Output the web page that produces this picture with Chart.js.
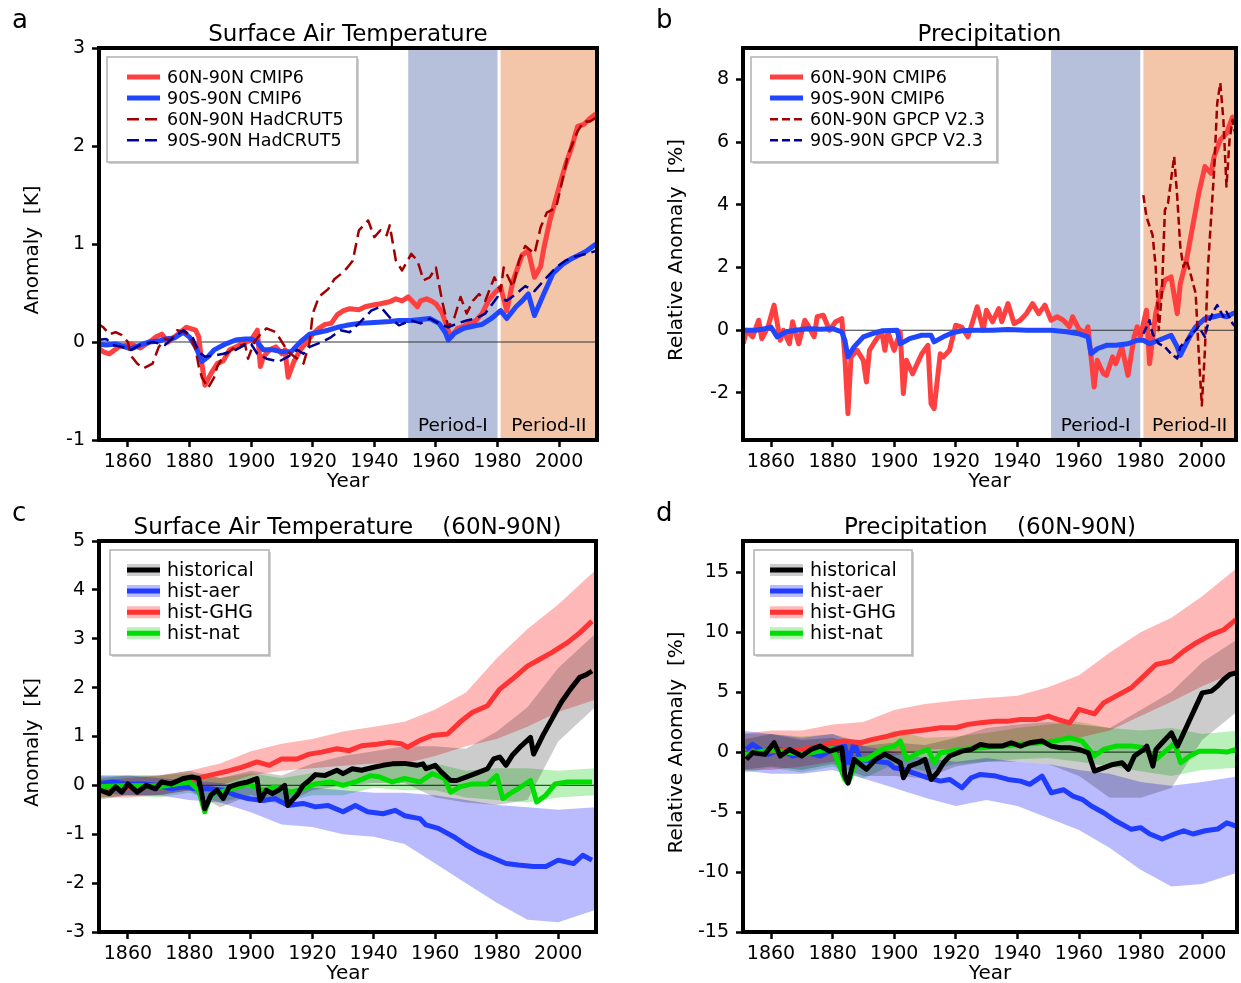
<!DOCTYPE html>
<html>
<head>
<meta charset="utf-8">
<script src="https://cdn.jsdelivr.net/npm/chart.js@4.4.1/dist/chart.umd.min.js"></script>
<style>
  body { margin: 0; background: #fff; }
  #wrap { position: relative; width: 1241px; height: 983px; }
  canvas { position: absolute; }
</style>
</head>
<body>
<div id="wrap">
  <canvas id="pa" width="620" height="491" style="left:0px;top:0px"></canvas>
  <canvas id="pb" width="621" height="491" style="left:620px;top:0px"></canvas>
  <canvas id="pc" width="620" height="492" style="left:0px;top:491px"></canvas>
  <canvas id="pd" width="621" height="492" style="left:620px;top:491px"></canvas>
</div>
<script>
// ---- ticks ----
const xTickVals = [1860, 1880, 1900, 1920, 1940, 1960, 1980, 2000];
const aYTicks = [-1, 0, 1, 2, 3];
const bYTicks = [-2, 0, 2, 4, 6, 8];
const cYTicks = [-3, -2, -1, 0, 1, 2, 3, 4, 5];
const dYTicks = [-15, -10, -5, 0, 5, 10, 15];

const periodNames = ['Period-I', 'Period-II'];
const periodStart = [1951, 1981];
const periodEnd = [1980, 2014];

// ---- panel a: surface air temperature ----
const aRedYr = [1850,1852,1854,1857,1861,1864,1867,1869,1871,1873,
  1875,1877,1879,1882,1883,1884,1885,1887,1889,1891,
  1893,1895,1897,1900,1902,1903,1904,1906,1908,1910,
  1911,1912,1914,1916,1918,1920,1922,1924,1926,1928,
  1930,1932,1935,1937,1940,1942,1945,1947,1949,1951,
  1954,1955,1957,1959,1960,1962,1964,1965,1967,1969,
  1971,1973,1975,1977,1979,1981,1983,1985,1987,1988,
  1990,1992,1994,1995,1997,2000,2002,2004,2006,2008,
  2010,2012];
const aRed = [-0.05,-0.1,-0.12,-0.05,-0.02,-0.06,0.0,0.05,0.08,0.0,
  0.05,0.1,0.15,0.12,0.05,-0.22,-0.44,-0.32,-0.22,-0.19,
  -0.08,-0.05,-0.02,0.02,0.12,-0.25,-0.15,-0.08,-0.05,-0.12,
  -0.08,-0.36,-0.19,-0.08,0.0,0.08,0.14,0.18,0.19,0.28,
  0.32,0.34,0.33,0.36,0.38,0.39,0.41,0.44,0.42,0.46,
  0.36,0.42,0.44,0.41,0.39,0.3,0.12,0.05,0.14,0.16,
  0.19,0.22,0.29,0.42,0.5,0.56,0.32,0.62,0.8,0.89,
  0.93,0.66,0.77,0.95,1.24,1.58,1.8,1.98,2.2,2.22,
  2.28,2.33];

const aBlueYr = [1850,1853,1856,1859,1861,1864,1867,1870,1872,1875,
  1878,1880,1882,1884,1886,1888,1891,1895,1898,1900,
  1902,1904,1907,1910,1913,1916,1919,1922,1925,1928,
  1931,1935,1940,1945,1948,1952,1955,1958,1961,1963,
  1964,1966,1969,1972,1975,1978,1981,1983,1986,1988,
  1990,1992,1995,1998,2001,2004,2006,2009,2012];
const aBlue = [-0.02,-0.03,-0.02,-0.05,-0.07,-0.03,0.0,0.01,0.03,0.04,
  0.1,0.05,-0.05,-0.2,-0.15,-0.08,-0.03,0.02,0.03,0.03,
  0.0,-0.08,-0.08,-0.1,-0.1,0.0,0.08,0.1,0.12,0.15,
  0.17,0.19,0.2,0.21,0.22,0.22,0.23,0.24,0.19,0.1,
  0.02,0.09,0.14,0.16,0.18,0.24,0.32,0.24,0.36,0.42,
  0.49,0.27,0.49,0.7,0.79,0.85,0.88,0.93,1.0];

const aHadNYr = [1850,1852,1854,1856,1858,1860,1861,1863,1865,1868,
  1870,1872,1874,1876,1878,1880,1882,1883,1884,1886,
  1888,1889,1891,1894,1898,1899,1901,1903,1905,1908,
  1910,1912,1915,1917,1919,1920,1922,1925,1927,1929,
  1931,1933,1935,1938,1940,1942,1944,1945,1947,1949,
  1952,1954,1956,1958,1960,1962,1964,1966,1968,1970,
  1972,1974,1976,1979,1981,1982,1985,1987,1989,1992,
  1994,1996,1999,2001,2003,2006,2008,2010,2012];
const aHadN = [0.19,0.15,0.08,0.1,0.07,0.0,-0.14,-0.22,-0.27,-0.22,
  -0.05,0.03,0.02,0.12,0.1,0.07,-0.08,-0.25,-0.36,-0.47,
  -0.36,-0.25,-0.15,-0.07,-0.02,-0.17,0.0,0.08,0.14,0.1,
  0.0,-0.1,-0.17,-0.22,0.0,0.29,0.46,0.54,0.64,0.69,
  0.75,0.83,1.14,1.24,1.07,1.14,1.09,1.19,0.83,0.73,
  0.9,0.83,0.63,0.66,0.76,0.42,0.15,0.25,0.46,0.29,
  0.42,0.49,0.42,0.66,0.52,0.76,0.56,0.83,0.98,0.9,
  1.17,1.32,1.37,1.64,1.92,2.15,2.25,2.25,2.29];

const aHadGYr = [1850,1853,1855,1858,1861,1864,1868,1872,1875,1878,
  1881,1883,1885,1888,1891,1895,1898,1900,1902,1905,
  1909,1912,1915,1917,1919,1923,1926,1929,1932,1935,
  1939,1942,1945,1948,1952,1955,1958,1961,1964,1967,
  1970,1973,1976,1980,1983,1986,1989,1992,1996,1999,
  2002,2005,2009,2012];
const aHadG = [0.02,0.03,-0.03,-0.05,-0.08,-0.03,0.0,-0.03,0.05,0.12,
  0.05,-0.1,-0.15,-0.14,-0.12,-0.08,-0.03,-0.02,-0.12,-0.17,
  -0.2,-0.15,-0.08,-0.12,-0.05,0.0,0.05,0.12,0.1,0.19,
  0.32,0.36,0.25,0.17,0.22,0.19,0.24,0.19,0.15,0.19,
  0.22,0.24,0.29,0.46,0.42,0.49,0.57,0.52,0.66,0.76,
  0.83,0.87,0.9,0.93];

// ---- panel b: precipitation ----
const bRedYr = [1851,1852,1854,1856,1857,1859,1861,1863,1864,1866,
  1867,1869,1871,1872,1874,1875,1877,1879,1881,1883,
  1884,1885,1886,1888,1890,1891,1892,1894,1896,1897,
  1898,1900,1902,1903,1904,1906,1908,1909,1911,1912,
  1913,1915,1916,1918,1920,1922,1924,1925,1927,1929,
  1930,1932,1934,1935,1937,1939,1941,1943,1945,1947,
  1949,1951,1953,1955,1957,1958,1960,1962,1963,1965,
  1966,1968,1969,1971,1972,1974,1976,1978,1979,1980,
  1982,1983,1985,1986,1988,1990,1992,1993,1995,1997,
  1999,2001,2003,2004,2006,2008,2010,2011,2012];
const bRed = [-0.43,0.0,-0.21,0.32,-0.27,0.1,0.8,-0.32,0.0,-0.43,
  0.27,-0.43,0.32,0.16,-0.21,0.43,0.48,0.0,0.27,0.37,
  -0.85,-2.66,-0.85,-0.64,-0.96,-1.65,-0.64,-0.32,-0.05,-0.64,
  -0.05,-0.64,-0.05,-2.02,-0.96,-1.39,-0.96,-0.75,-0.48,-2.34,
  -2.5,-0.75,-0.85,-0.64,0.16,0.1,-0.21,0.1,0.75,0.0,
  0.64,0.27,0.69,0.27,0.85,0.21,0.32,0.53,0.85,0.53,
  0.8,0.32,0.43,0.32,0.11,0.43,0.05,-0.11,0.11,-1.81,
  -0.96,-1.38,-1.44,-0.85,-1.07,-0.53,-1.44,-0.21,0.11,-0.21,
  0.64,-1.07,0.53,0.96,1.6,1.7,0.53,1.49,2.24,3.3,
  4.37,5.22,5.0,5.54,6.07,6.28,6.8,6.65,6.4];

const bBlueYr = [1851,1855,1858,1860,1862,1865,1868,1872,1876,1880,
  1883,1884,1885,1887,1890,1893,1896,1901,1902,1905,
  1909,1912,1913,1916,1919,1922,1926,1932,1937,1943,
  1948,1951,1956,1960,1963,1964,1966,1969,1972,1976,
  1979,1981,1983,1986,1990,1992,1993,1996,1998,2001,
  2004,2006,2008,2010,2012];
const bBlue = [0.0,0.0,0.05,0.1,-0.21,-0.05,0.0,0.05,0.03,0.05,
  -0.05,-0.32,-0.85,-0.53,-0.21,-0.11,-0.02,0.0,-0.43,-0.27,
  -0.16,-0.16,-0.37,-0.21,-0.08,-0.02,0.0,0.0,0.02,0.0,
  0.0,0.0,-0.05,-0.11,-0.21,-0.75,-0.59,-0.48,-0.48,-0.43,
  -0.32,-0.32,-0.43,-0.32,-0.16,-0.53,-0.8,-0.21,0.11,0.37,
  0.43,0.48,0.43,0.53,0.59];

const bGpcpNYr = [1981,1982,1984,1985,1986,1987,1988,1989,1991,1992,
  1993,1994,1995,1996,1998,1999,2000,2001,2002,2004,
  2005,2006,2007,2008,2009,2010,2011];
const bGpcpN = [4.31,3.62,3.03,2.02,0.0,1.17,3.83,4.05,5.54,4.26,
  2.66,2.02,2.24,1.92,1.17,-0.75,-2.4,-0.64,2.02,5.11,
  7.24,7.88,6.71,4.58,6.07,6.71,6.18];

const bGpcpGYr = [1981,1983,1984,1986,1988,1990,1992,1993,1996,1998,
  1999,2001,2002,2004,2005,2007,2008,2010,2011,2012];
const bGpcpG = [-0.11,0.32,-0.11,-0.43,-0.53,-0.75,-0.9,-0.53,-0.21,0.0,
  0.11,-0.21,0.21,0.64,0.8,0.43,0.59,0.21,0.11,0.32];

// ---- spread bands (panels c, d) ----
const bandYr = [1850,1860,1870,1880,1890,1900,1910,1920,1930,1940,1950,1960,1970,1980,1990,2000,2012];

// ---- panel c: SAT 60N-90N single forcing ----
const cHistYr = [1851,1854,1856,1858,1860,1863,1866,1869,1871,1874,
  1878,1881,1883,1885,1887,1889,1891,1893,1896,1899,
  1902,1903,1905,1907,1909,1911,1912,1915,1917,1919,
  1921,1924,1928,1930,1933,1936,1940,1943,1946,1950,
  1954,1956,1957,1960,1962,1965,1967,1970,1973,1977,
  1979,1981,1983,1985,1988,1991,1992,1995,1998,2001,
  2004,2007,2009,2011];
const cHist = [-0.1,-0.17,-0.03,-0.14,0.03,-0.14,0.0,-0.07,0.07,0.03,
  0.14,0.17,0.14,-0.48,-0.2,-0.1,-0.27,-0.03,0.03,0.07,
  0.14,-0.31,-0.1,-0.17,-0.1,0.0,-0.41,-0.2,0.0,0.1,
  0.22,0.2,0.31,0.24,0.34,0.31,0.37,0.41,0.44,0.45,
  0.41,0.44,0.34,0.41,0.27,0.1,0.1,0.17,0.24,0.34,
  0.54,0.58,0.41,0.61,0.81,0.98,0.64,1.02,1.36,1.7,
  1.97,2.21,2.26,2.34];
const cHistHi = [0.15,0.2,0.2,0.3,0.15,0.3,0.2,0.45,0.6,0.7,0.8,0.8,0.75,1.1,1.6,2.4,3.1];
const cHistLo = [-0.3,-0.2,-0.2,-0.1,-0.45,-0.2,-0.4,-0.1,0.0,0.05,0.05,-0.25,-0.35,-0.4,-0.3,0.9,1.6];

const cGhgYr = [1850,1858,1864,1870,1875,1880,1884,1889,1893,1897,
  1902,1906,1910,1915,1919,1923,1928,1932,1936,1941,
  1945,1949,1951,1955,1959,1964,1968,1972,1977,1981,
  1985,1990,1994,1998,2003,2007,2011];
const cGhg = [-0.1,-0.07,0.0,0.0,0.03,0.1,0.17,0.24,0.3,0.37,
  0.48,0.41,0.54,0.54,0.64,0.68,0.75,0.71,0.81,0.84,
  0.88,0.85,0.78,0.92,1.02,1.05,1.29,1.49,1.63,1.97,
  2.17,2.44,2.58,2.72,2.92,3.12,3.36];
const cGhgHi = [0.1,0.15,0.2,0.3,0.45,0.7,0.85,0.95,1.1,1.2,1.3,1.55,1.9,2.6,3.2,3.7,4.4];
const cGhgLo = [-0.25,-0.25,-0.2,-0.1,0.0,0.2,0.3,0.35,0.4,0.45,0.45,0.6,0.8,0.95,1.2,1.5,1.75];

const cAerYr = [1850,1855,1860,1865,1870,1874,1878,1882,1886,1891,
  1895,1899,1904,1908,1912,1917,1921,1925,1930,1934,
  1938,1943,1947,1950,1955,1957,1961,1966,1970,1974,
  1979,1983,1987,1992,1996,2000,2005,2008,2011];
const cAer = [0.03,0.07,0.03,0.03,0.0,-0.07,-0.03,-0.07,-0.07,-0.1,
  -0.2,-0.27,-0.31,-0.27,-0.41,-0.37,-0.44,-0.41,-0.54,-0.41,
  -0.54,-0.58,-0.51,-0.62,-0.68,-0.81,-0.88,-1.05,-1.22,-1.36,
  -1.49,-1.6,-1.63,-1.66,-1.66,-1.53,-1.6,-1.43,-1.53];
const cAerHi = [0.2,0.2,0.15,0.1,0.05,-0.05,-0.1,-0.05,-0.1,-0.15,-0.15,-0.2,-0.3,-0.4,-0.45,-0.5,-0.45];
const cAerLo = [-0.15,-0.2,-0.2,-0.3,-0.35,-0.55,-0.8,-0.85,-1.0,-1.05,-1.2,-1.6,-2.0,-2.4,-2.75,-2.8,-2.55];

const cNatYr = [1850,1860,1870,1880,1883,1885,1887,1892,1899,1904,
  1908,1913,1917,1921,1926,1930,1934,1939,1942,1946,
  1950,1955,1959,1963,1965,1968,1972,1977,1980,1982,
  1985,1987,1991,1993,1996,1999,2003,2007,2011];
const cNat = [-0.03,0.0,-0.03,0.07,-0.1,-0.54,-0.2,-0.1,0.03,-0.1,
  -0.03,-0.14,-0.07,0.03,0.07,0.0,0.07,0.2,0.17,0.07,
  0.14,0.07,0.24,0.14,-0.14,-0.03,0.03,0.03,0.2,-0.27,
  -0.14,-0.07,0.1,-0.34,-0.2,0.03,0.07,0.07,0.07];
const cNatHi = [0.2,0.2,0.2,0.25,0.15,0.25,0.15,0.25,0.25,0.4,0.4,0.45,0.3,0.35,0.35,0.3,0.35];
const cNatLo = [-0.25,-0.2,-0.25,-0.15,-0.35,-0.2,-0.35,-0.2,-0.2,-0.05,-0.1,-0.1,-0.25,-0.3,-0.35,-0.25,-0.2];

// ---- panel d: precipitation 60N-90N single forcing ----
const dHistYr = [1852,1854,1858,1861,1863,1866,1870,1873,1876,1879,
  1883,1884,1885,1887,1889,1891,1894,1897,1900,1902,
  1903,1905,1908,1910,1912,1914,1916,1918,1922,1925,
  1928,1931,1935,1938,1941,1944,1948,1951,1954,1957,
  1960,1963,1965,1968,1971,1974,1976,1978,1981,1982,
  1984,1985,1987,1990,1992,1994,1996,1998,2000,2003,
  2005,2007,2009,2011];
const dHist = [-0.61,-0.06,-0.19,0.78,-0.33,0.22,-0.33,0.22,0.5,0.08,
  0.36,-2.0,-2.56,-0.61,-1.03,-1.44,-0.61,-0.19,-0.61,-0.89,
  -2.14,-1.17,-0.89,-0.61,-2.28,-1.72,-0.89,-0.33,0.08,0.22,
  0.64,0.5,0.5,0.78,0.5,0.78,0.92,0.5,0.36,0.36,
  0.22,-0.06,-1.58,-1.31,-1.03,-0.89,-1.44,-0.33,0.22,0.5,
  -1.17,0.22,0.78,1.6,0.5,1.6,2.72,3.83,4.94,5.08,
  5.5,6.05,6.47,6.6];
const dHistHi = [1.0,1.5,1.0,1.2,0.5,0.8,0.6,1.2,2.0,2.3,2.5,2.3,2.0,3.5,5.0,7.5,9.5];
const dHistLo = [-1.5,-1.2,-1.5,-1.0,-2.0,-2.0,-2.2,-1.2,-0.8,-0.8,-1.0,-2.0,-3.8,-3.8,-3.0,1.0,3.5];

const dGhgYr = [1852,1859,1870,1876,1880,1884,1889,1893,1898,1902,
  1907,1911,1915,1920,1924,1928,1933,1937,1941,1946,
  1948,1950,1953,1957,1960,1965,1968,1972,1977,1981,
  1985,1990,1994,1998,2003,2007,2011];
const dGhg = [-0.19,0.08,0.22,0.5,0.78,0.92,0.78,1.06,1.33,1.6,
  1.75,1.89,2.03,2.03,2.31,2.44,2.58,2.58,2.72,2.72,
  2.86,3.0,2.72,2.44,3.56,3.19,4.1,4.67,5.36,6.33,
  7.3,7.58,8.42,9.1,9.8,10.2,11.05];
const dGhgHi = [1.5,1.8,1.8,2.3,2.5,3.5,4.0,4.3,4.5,4.7,5.4,6.4,8.3,10.0,11.2,13.0,15.5];
const dGhgLo = [-1.5,-1.5,-1.2,-0.8,-0.8,-0.3,0.2,0.3,0.5,0.8,0.8,1.2,1.8,3.0,4.2,5.5,6.8];

const dAerYr = [1852,1854,1859,1863,1867,1872,1876,1880,1884,1885,
  1887,1889,1893,1898,1900,1903,1906,1911,1915,1918,
  1922,1925,1928,1933,1937,1941,1944,1948,1951,1955,
  1958,1961,1964,1968,1972,1977,1980,1983,1987,1991,
  1994,1997,2001,2005,2008,2011];
const dAer = [0.22,0.64,-0.19,0.22,-0.33,-0.06,-0.33,0.22,0.5,-0.89,
  0.78,-0.61,-0.75,-0.89,-1.31,-1.44,-1.72,-2.14,-2.42,-2.28,
  -2.97,-2.14,-1.86,-2.0,-2.28,-2.42,-2.69,-2.0,-3.39,-3.14,
  -3.67,-3.94,-4.5,-5.06,-5.75,-6.44,-6.3,-6.83,-7.25,-6.83,
  -6.56,-6.83,-6.56,-6.42,-5.9,-6.17];
const dAerHi = [1.8,1.5,1.2,1.5,0.5,0.0,-0.5,-0.8,-0.5,-0.8,-1.0,-1.5,-1.8,-2.5,-2.8,-2.5,-2.0];
const dAerLo = [-1.5,-1.8,-1.8,-1.5,-2.2,-3.0,-3.8,-4.5,-4.0,-4.5,-5.5,-6.5,-8.0,-9.8,-11.2,-11.0,-10.0];

const dNatYr = [1850,1860,1870,1880,1884,1885,1888,1891,1896,1900,
  1902,1904,1908,1911,1913,1915,1922,1928,1935,1941,
  1948,1952,1957,1961,1965,1968,1972,1977,1981,1985,
  1990,1991,1993,1996,1999,2004,2008,2011];
const dNat = [-0.3,0.2,-0.2,0.3,-2.3,-2.6,-0.6,-0.6,0.22,0.5,
  0.92,-0.61,-0.06,0.22,-0.89,-0.06,0.22,0.36,0.5,0.64,
  0.78,0.92,1.19,0.92,-0.33,0.22,0.5,0.5,0.36,-0.61,
  0.5,0.78,-0.89,-0.33,0.08,0.08,0.0,0.22];
const dNatHi = [1.5,1.5,1.3,1.5,0.8,1.8,1.2,1.3,1.6,2.0,2.3,2.5,2.0,1.8,2.0,1.5,1.8];
const dNatLo = [-1.8,-1.3,-1.7,-1.2,-2.2,-1.0,-1.6,-1.0,-0.8,-0.6,-0.5,-0.8,-1.2,-1.6,-2.0,-1.5,-1.3];

// ---- colours ----
const RED = '#ff4040', BLUE = '#2146ff', DARKRED = '#a00000', NAVY = '#000090';
const BLACK = '#000000', GREEN = '#00dd00', RED2 = '#ff3333', BLUE2 = '#1f3cff';
const BAND_K = 'rgba(0,0,0,0.2)', BAND_B = 'rgba(0,0,255,0.27)', BAND_R = 'rgba(255,0,0,0.28)', BAND_G = 'rgba(0,200,0,0.27)';
const PERIOD_COLORS = ['#b7c0da', '#f4c6a9'];

Chart.defaults.font.family = "'DejaVu Sans', sans-serif";
Chart.defaults.color = '#000';

function pts(xs, ys) {
  const n = Math.min(xs.length, ys.length);
  const out = [];
  for (let i = 0; i < n; i++) out.push({ x: xs[i], y: ys[i] });
  return out;
}

function lineSet(label, xs, ys, color, width, dash, order) {
  return {
    label: label, data: pts(xs, ys), borderColor: color, borderWidth: width,
    borderDash: dash || [], pointRadius: 0, fill: false, tension: 0, order: order,
    borderJoinStyle: 'round'
  };
}

function bandSets(xs, hi, lo, color, order) {
  return [
    { label: 'hi', data: pts(xs, hi), borderColor: 'rgba(0,0,0,0)', borderWidth: 1, pointRadius: 0,
      fill: '+1', backgroundColor: color, order: order, tension: 0 },
    { label: 'lo', data: pts(xs, lo), borderColor: 'rgba(0,0,0,0)', borderWidth: 1, pointRadius: 0,
      fill: false, order: order, tension: 0 }
  ];
}

function legendLine(ctx, x0, x1, y, color, width, dash) {
  ctx.strokeStyle = color;
  ctx.lineWidth = width;
  ctx.setLineDash(dash || []);
  ctx.beginPath(); ctx.moveTo(x0, y); ctx.lineTo(x1, y); ctx.stroke();
  ctx.setLineDash([]);
}

function panelPlugin(p) {
  return {
    id: 'panel' + p.letter,
    beforeDatasetsDraw(chart) {
      const ctx = chart.ctx, a = chart.chartArea, x = chart.scales.x, y = chart.scales.y;
      ctx.save();
      if (p.periods) {
        periodStart.forEach((s, i) => {
          const x0 = x.getPixelForValue(s);
          const x1 = x.getPixelForValue(Math.min(periodEnd[i], x.max));
          ctx.fillStyle = PERIOD_COLORS[i];
          ctx.fillRect(x0, a.top, x1 - x0, a.bottom - a.top);
        });
      }
      const y0 = y.getPixelForValue(0);
      ctx.strokeStyle = '#333';
      ctx.lineWidth = 1.2;
      ctx.beginPath(); ctx.moveTo(a.left, y0); ctx.lineTo(a.right, y0); ctx.stroke();
      ctx.restore();
    },
    afterDraw(chart) {
      const ctx = chart.ctx, a = chart.chartArea, x = chart.scales.x;
      ctx.save();
      // period labels
      if (p.periods) {
        ctx.font = '18.5px DejaVu Sans';
        ctx.fillStyle = '#000';
        ctx.textAlign = 'center';
        ctx.textBaseline = 'middle';
        periodStart.forEach((s, i) => {
          const x0 = x.getPixelForValue(s);
          const x1 = x.getPixelForValue(Math.min(periodEnd[i], x.max));
          ctx.fillText(periodNames[i], (x0 + x1) / 2, a.bottom - 14);
        });
      }
      // frame
      ctx.strokeStyle = '#000';
      ctx.lineWidth = 4;
      ctx.lineJoin = 'miter';
      ctx.strokeRect(a.left, a.top, a.right - a.left, a.bottom - a.top);
      // legend
      const lg = p.legend;
      const bx = a.left + lg.dx, by = a.top + 9;
      ctx.fillStyle = 'rgba(0,0,0,0.18)';
      ctx.fillRect(bx + 2, by + 2, lg.w, 105);
      ctx.fillStyle = '#fff';
      ctx.fillRect(bx, by, lg.w, 105);
      ctx.strokeStyle = '#b0b0b0';
      ctx.lineWidth = 1.5;
      ctx.strokeRect(bx, by, lg.w, 105);
      ctx.font = lg.font + 'px DejaVu Sans';
      ctx.textAlign = 'left';
      ctx.textBaseline = 'middle';
      lg.items.forEach((it, i) => {
        const yy = a.top + 29 + i * 21.1;
        const x0 = a.left + lg.sx, x1 = x0 + 33;
        if (it.halo) legendLine(ctx, x0, x1, yy, it.halo, 12);
        legendLine(ctx, x0, x1, yy, it.color, it.width, it.dash);
        ctx.fillStyle = '#000';
        ctx.fillText(it.label, a.left + lg.tx, yy + 1);
      });
      // titles and axis labels
      ctx.fillStyle = '#000';
      ctx.textAlign = 'center';
      ctx.textBaseline = 'middle';
      ctx.font = '23px DejaVu Sans';
      ctx.fillText(p.title, (a.left + a.right) / 2, a.top - 13);
      ctx.font = '20px DejaVu Sans';
      ctx.fillText('Year', (a.left + a.right) / 2, a.bottom + 42);
      ctx.save();
      ctx.translate(a.left - 66, (a.top + a.bottom) / 2 + 6);
      ctx.rotate(-Math.PI / 2);
      ctx.fillText(p.yLabel, 0, 0);
      ctx.restore();
      ctx.font = '26px DejaVu Sans';
      ctx.textAlign = 'left';
      ctx.fillText(p.letter, a.left - 87, a.top - 27);
      ctx.restore();
    }
  };
}

function makePanel(p) {
  const cv = document.getElementById(p.id);
  const W = cv.width, H = cv.height, area = p.area, xAxisH = 45;
  return new Chart(cv, {
    type: 'line',
    data: { datasets: p.datasets },
    options: {
      responsive: false,
      animation: false,
      devicePixelRatio: 1,
      layout: { padding: { left: 0, top: area.top, right: W - area.right, bottom: H - area.bottom - xAxisH } },
      plugins: { legend: { display: false }, tooltip: { enabled: false } },
      scales: {
        x: {
          type: 'linear', min: p.xMin, max: p.xMax,
          afterBuildTicks: s => { s.ticks = xTickVals.map(v => ({ value: v })); },
          afterFit: s => { s.height = xAxisH; },
          ticks: { font: { size: 19 }, padding: 4, maxRotation: 0, autoSkip: false, callback: v => String(v) },
          grid: { drawOnChartArea: false, drawTicks: true, tickLength: 7, tickWidth: 2.5, tickColor: '#000' },
          border: { display: false }
        },
        y: {
          type: 'linear', min: p.yMin, max: p.yMax,
          afterBuildTicks: s => { s.ticks = p.yTicks.map(v => ({ value: v })); },
          afterFit: s => { s.width = area.left; },
          ticks: { font: { size: 19 }, padding: 7, autoSkip: false, callback: v => String(v) },
          grid: { drawOnChartArea: false, drawTicks: true, tickLength: 7, tickWidth: 2.5, tickColor: '#000' },
          border: { display: false }
        }
      }
    },
    plugins: [panelPlugin(p)]
  });
}

const legAB = (dashN, dashG, n1, n2) => [
  { label: '60N-90N CMIP6', color: RED, width: 5 },
  { label: '90S-90N CMIP6', color: BLUE, width: 5 },
  { label: n1, color: DARKRED, width: 2.5, dash: dashN },
  { label: n2, color: NAVY, width: 2.5, dash: dashG }
];
const legCD = [
  { label: 'historical', color: BLACK, width: 5, halo: BAND_K },
  { label: 'hist-aer', color: BLUE2, width: 5, halo: BAND_B },
  { label: 'hist-GHG', color: RED2, width: 5, halo: BAND_R },
  { label: 'hist-nat', color: GREEN, width: 5, halo: BAND_G }
];

makePanel({
  id: 'pa', letter: 'a', area: { left: 99, top: 48, right: 597, bottom: 440 },
  xMin: 1850.6, xMax: 2012.3, yMin: -1, yMax: 3, yTicks: aYTicks, periods: true,
  title: 'Surface Air Temperature', yLabel: 'Anomaly  [K]',
  legend: { dx: 8, w: 250, sx: 28, tx: 68, font: 17.5, items: legAB([12, 6], [12, 6], '60N-90N HadCRUT5', '90S-90N HadCRUT5') },
  datasets: [
    lineSet('90S-90N HadCRUT5', aHadGYr, aHadG, NAVY, 2.5, [12, 6], 0),
    lineSet('60N-90N HadCRUT5', aHadNYr, aHadN, DARKRED, 2.5, [12, 6], 1),
    lineSet('90S-90N CMIP6', aBlueYr, aBlue, BLUE, 5, null, 2),
    lineSet('60N-90N CMIP6', aRedYr, aRed, RED, 5, null, 3)
  ]
});

makePanel({
  id: 'pb', letter: 'b', area: { left: 123, top: 48, right: 616, bottom: 440 },
  xMin: 1850.9, xMax: 2011.1, yMin: -3.5, yMax: 9, yTicks: bYTicks, periods: true,
  title: 'Precipitation', yLabel: 'Relative Anomaly  [%]',
  legend: { dx: 8, w: 246, sx: 27, tx: 67, font: 17.5, items: legAB([8, 4], [8, 4], '60N-90N GPCP V2.3', '90S-90N GPCP V2.3') },
  datasets: [
    lineSet('90S-90N GPCP V2.3', bGpcpGYr, bGpcpG, NAVY, 2.5, [8, 4], 0),
    lineSet('60N-90N GPCP V2.3', bGpcpNYr, bGpcpN, DARKRED, 2.5, [8, 4], 1),
    lineSet('90S-90N CMIP6', bBlueYr, bBlue, BLUE, 5, null, 2),
    lineSet('60N-90N CMIP6', bRedYr, bRed, RED, 5, null, 3)
  ]
});

makePanel({
  id: 'pc', letter: 'c', area: { left: 99, top: 50, right: 596, bottom: 441 },
  xMin: 1850.6, xMax: 2012.3, yMin: -3, yMax: 5, yTicks: cYTicks, periods: false,
  title: 'Surface Air Temperature    (60N-90N)', yLabel: 'Anomaly  [K]',
  legend: { dx: 11, w: 159, sx: 28, tx: 68, font: 19, items: legCD },
  datasets: [
    lineSet('historical', cHistYr, cHist, BLACK, 5, null, 0),
    lineSet('hist-nat', cNatYr, cNat, GREEN, 5, null, 1),
    lineSet('hist-GHG', cGhgYr, cGhg, RED2, 5, null, 2),
    lineSet('hist-aer', cAerYr, cAer, BLUE2, 5, null, 3),
    ...bandSets(bandYr, cHistHi, cHistLo, BAND_K, 10),
    ...bandSets(bandYr, cAerHi, cAerLo, BAND_B, 11),
    ...bandSets(bandYr, cGhgHi, cGhgLo, BAND_R, 12),
    ...bandSets(bandYr, cNatHi, cNatLo, BAND_G, 13)
  ]
});

makePanel({
  id: 'pd', letter: 'd', area: { left: 123, top: 50, right: 617, bottom: 441 },
  xMin: 1850.9, xMax: 2011.3, yMin: -15, yMax: 17.6, yTicks: dYTicks, periods: false,
  title: 'Precipitation    (60N-90N)', yLabel: 'Relative Anomaly  [%]',
  legend: { dx: 11, w: 158, sx: 27, tx: 67, font: 19, items: legCD },
  datasets: [
    lineSet('historical', dHistYr, dHist, BLACK, 5, null, 0),
    lineSet('hist-nat', dNatYr, dNat, GREEN, 5, null, 1),
    lineSet('hist-GHG', dGhgYr, dGhg, RED2, 5, null, 2),
    lineSet('hist-aer', dAerYr, dAer, BLUE2, 5, null, 3),
    ...bandSets(bandYr, dHistHi, dHistLo, BAND_K, 10),
    ...bandSets(bandYr, dAerHi, dAerLo, BAND_B, 11),
    ...bandSets(bandYr, dGhgHi, dGhgLo, BAND_R, 12),
    ...bandSets(bandYr, dNatHi, dNatLo, BAND_G, 13)
  ]
});
</script>
</body>
</html>
